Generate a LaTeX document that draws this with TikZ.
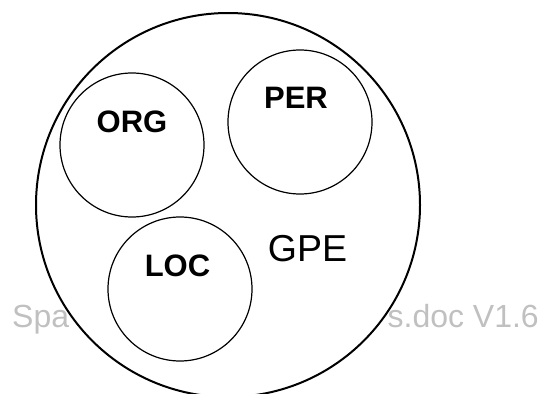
\documentclass[tikz,border=0pt]{standalone}
\usepackage{fontspec}
\setmainfont{Liberation Sans}
\usepackage{tikz}
\usetikzlibrary{positioning}

\definecolor{markgray}{RGB}{192,192,192}

\begin{document}
\begin{tikzpicture}[x=1pt, y=-1pt,
  outer/.style={shape=circle, draw=black, fill=white, line width=2pt, minimum size=384pt, inner sep=0pt},
  inner/.style={shape=circle, draw=black, fill=white, line width=1.2pt, minimum size=144pt, inner sep=0pt},
  tag/.style={font=\bfseries\fontsize{31}{31}\selectfont, inner sep=0pt, anchor=base},
  stamp/.style={font=\fontsize{32}{32}\selectfont, text=markgray, inner sep=0pt, anchor=base west}]
\clip (0,0) rectangle (540,393);
\node[stamp] (stampL) at (12,327) {Spa};
\node[stamp, anchor=base east] (stampR) at (539,327) {s.doc V1.6};
\node[outer] (GPE) at (228,205) {};
\node[inner] (ORG) at (132,145) {};
\node[inner] (PER) at (300,122) {};
\node[inner] (LOC) at (180,289) {};
\node[tag] (orgname) at (132,132) {ORG};
\node[tag] (pername) at (296,109) {PER};
\node[tag] (locname) at (177.5,276) {LOC};
\node[font=\fontsize{37.5}{37.5}\selectfont, inner sep=0pt, anchor=base] (gpename) at (307.5,261) {GPE};
\end{tikzpicture}
\end{document}
